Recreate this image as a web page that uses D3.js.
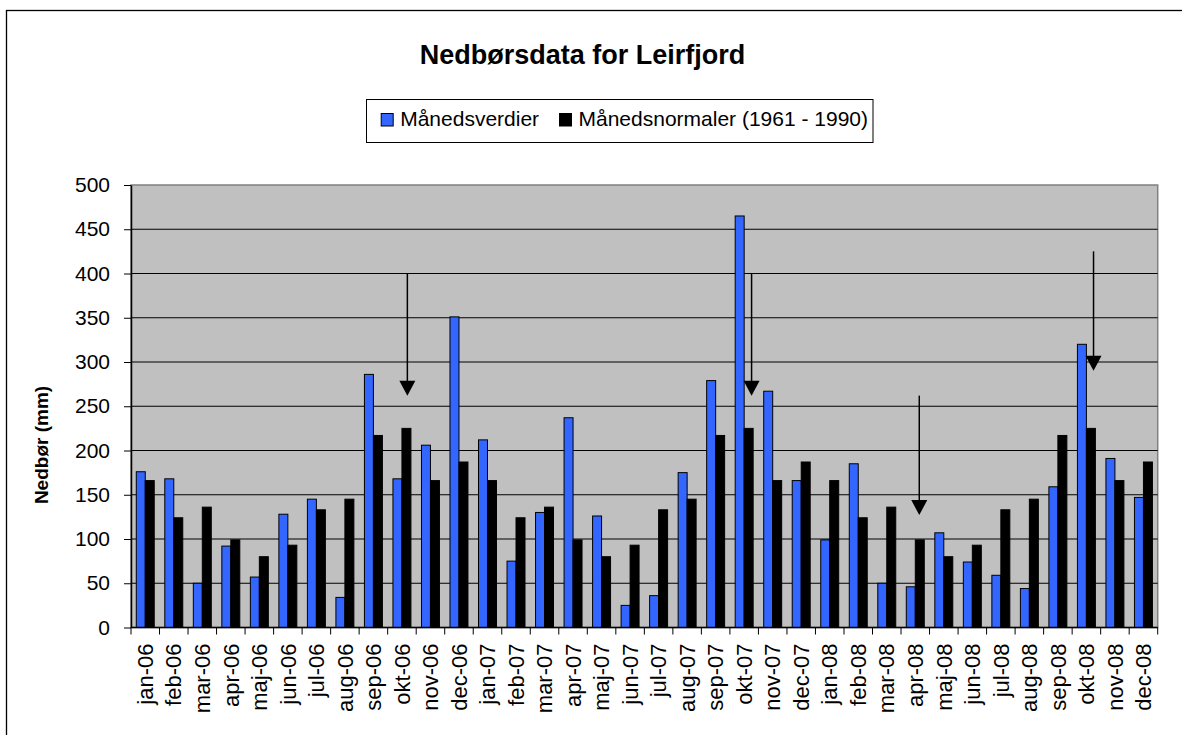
<!DOCTYPE html>
<html>
<head>
<meta charset="utf-8">
<script src="https://cdn.jsdelivr.net/npm/d3@7"></script>
<style>
  body { margin: 0; background: #fff; }
  text { font-family: "Liberation Sans", Arial, sans-serif; }
</style>
</head>
<body>
<div id="chart"></div>
<script>
var months = ['jan-06','feb-06','mar-06','apr-06','maj-06','jun-06','jul-06','aug-06','sep-06','okt-06','nov-06','dec-06',
  'jan-07','feb-07','mar-07','apr-07','maj-07','jun-07','jul-07','aug-07','sep-07','okt-07','nov-07','dec-07',
  'jan-08','feb-08','mar-08','apr-08','maj-08','jun-08','jul-08','aug-08','sep-08','okt-08','nov-08','dec-08'];

// månedsverdier (mm)
var verdier = [176,168,50,92,57,128,145,34,286,168,206,351,
  212,75,130,237,126,25,36,175,279,465,267,166,
  99,185,50,46,107,74,59,44,159,320,191,147];

// månedsnormaler 1961-1990 (mm)
var normaler = [166,124,136,99,80,93,133,145,217,225,166,187,
  166,124,136,99,80,93,133,145,217,225,166,187,
  166,124,136,99,80,93,133,145,217,225,166,187];

var yTicks = [0,50,100,150,200,250,300,350,400,450,500];

// piler: måned, plassering i båndet, fra/til verdi
var arrows = [
  {month: 'okt-06', pos: 0.69, from: 400, to: 262},
  {month: 'okt-07', pos: 0.76, from: 400, to: 262},
  {month: 'apr-08', pos: 0.64, from: 262, to: 127},
  {month: 'okt-08', pos: 0.75, from: 425, to: 290}
];

var seriesNames = ['Månedsverdier', 'Månedsnormaler (1961 - 1990)'];
var seriesColors = ['#3366ff', '#000000'];

var plotLeft = 131, plotRight = 1157.7, plotTop = 185, plotBottom = 627.5;

var svg = d3.select('#chart')
  .append('svg')
  .attr('width', 1182)
  .attr('height', 735);

svg.append('rect')
  .attr('x', 6.5).attr('y', 10.5)
  .attr('width', 1200).attr('height', 800)
  .attr('fill', 'none').attr('stroke', '#000').attr('stroke-width', 1.3);

var x0 = d3.scaleBand().domain(months).range([plotLeft, plotRight]);
var bw = x0.bandwidth();
var x1 = d3.scaleBand().domain([0, 1]).range([bw * 0.185, bw * 0.815]);
var y = d3.scaleLinear().domain([0, 500]).range([plotBottom, plotTop]);

// plot area
svg.append('rect')
  .attr('x', plotLeft).attr('y', plotTop)
  .attr('width', plotRight - plotLeft).attr('height', plotBottom - plotTop)
  .attr('fill', '#c0c0c0')
  .attr('stroke', '#808080').attr('stroke-width', 1.5);

svg.selectAll('line.grid')
  .data(yTicks.filter(function(d){ return d > 0 && d < 500; }))
  .enter()
    .append('line')
    .classed('grid', true)
    .attr('x1', plotLeft).attr('x2', plotRight)
    .attr('y1', function(d){ return y(d); })
    .attr('y2', function(d){ return y(d); })
    .attr('stroke', '#000').attr('stroke-width', 1);

// bars
var groups = svg.selectAll('g.datapoint')
  .data(months)
  .enter()
    .append('g')
    .classed('datapoint', true)
    .attr('transform', function(d){ return 'translate(' + x0(d) + ',0)'; });

groups.selectAll('rect')
  .data(function(d, i){ return [verdier[i], normaler[i]]; })
  .enter()
    .append('rect')
    .attr('x', function(d, j){ return x1(j); })
    .attr('y', function(d){ return y(d); })
    .attr('width', x1.bandwidth())
    .attr('height', function(d){ return y(0) - y(d); })
    .attr('fill', function(d, j){ return seriesColors[j]; })
    .attr('stroke', '#000').attr('stroke-width', 1);

// y axis
var yAxis = svg.append('g')
  .attr('transform', 'translate(' + plotLeft + ',0)')
  .call(d3.axisLeft(y).tickValues(yTicks).tickSize(7).tickPadding(14).tickSizeOuter(0));
yAxis.select('.domain').attr('stroke', '#000').attr('stroke-width', 1.5);
yAxis.selectAll('.tick line').attr('stroke', '#000');
yAxis.selectAll('.tick text')
  .attr('font-family', '"Liberation Sans", Arial, sans-serif')
  .attr('font-size', 21).attr('fill', '#000');

// x axis
svg.append('line')
  .attr('x1', plotLeft).attr('x2', plotRight)
  .attr('y1', plotBottom).attr('y2', plotBottom)
  .attr('stroke', '#000').attr('stroke-width', 1.5);

svg.selectAll('line.xtick')
  .data(months.concat(['end']))
  .enter()
    .append('line')
    .classed('xtick', true)
    .attr('x1', function(d){ return d === 'end' ? plotRight : x0(d); })
    .attr('x2', function(d){ return d === 'end' ? plotRight : x0(d); })
    .attr('y1', plotBottom).attr('y2', plotBottom + 7)
    .attr('stroke', '#000');

svg.selectAll('text.xlabel')
  .data(months)
  .enter()
    .append('text')
    .classed('xlabel', true)
    .attr('transform', function(d){ return 'translate(' + (x0(d) + bw / 2) + ',' + (plotBottom + 16) + ') rotate(-90)'; })
    .attr('dy', '0.35em')
    .attr('text-anchor', 'end')
    .attr('font-size', 22)
    .text(function(d){ return d; });

// arrows
var arr = svg.selectAll('g.arrow')
  .data(arrows)
  .enter()
    .append('g')
    .classed('arrow', true);

arr.append('line')
  .attr('x1', function(d){ return x0(d.month) + bw * d.pos; })
  .attr('x2', function(d){ return x0(d.month) + bw * d.pos; })
  .attr('y1', function(d){ return y(d.from); })
  .attr('y2', function(d){ return y(d.to) - 10; })
  .attr('stroke', '#000').attr('stroke-width', 1.5);

arr.append('path')
  .attr('d', function(d){
    var ax = x0(d.month) + bw * d.pos, ay = y(d.to);
    return 'M' + ax + ',' + ay + 'L' + (ax - 8) + ',' + (ay - 15) + 'L' + (ax + 8) + ',' + (ay - 15) + 'Z';
  })
  .attr('fill', '#000');

// title
svg.append('text')
  .attr('x', 582.5).attr('y', 64)
  .attr('text-anchor', 'middle')
  .attr('font-size', 27).attr('font-weight', 'bold')
  .text('Nedbørsdata for Leirfjord');

// y title
svg.append('text')
  .attr('transform', 'translate(41,445) rotate(-90)')
  .attr('text-anchor', 'middle')
  .attr('dy', '0.35em')
  .attr('font-size', 19).attr('font-weight', 'bold')
  .text('Nedbør (mm)');

// legend
var legend = svg.append('g');
legend.append('rect')
  .attr('x', 366.5).attr('y', 99.5)
  .attr('width', 506.5).attr('height', 43)
  .attr('fill', '#fff').attr('stroke', '#000').attr('stroke-width', 1);

var legendX = [380.7, 559];
var items = legend.selectAll('g.item')
  .data(seriesNames)
  .enter()
    .append('g')
    .classed('item', true)
    .attr('transform', function(d, i){ return 'translate(' + legendX[i] + ',0)'; });
items.append('rect')
  .attr('x', 0.5).attr('y', 113.5)
  .attr('width', 12).attr('height', 12.5)
  .attr('fill', function(d, i){ return seriesColors[i]; })
  .attr('stroke', '#000').attr('stroke-width', 1);
items.append('text')
  .attr('x', 19.5).attr('y', 126)
  .attr('font-size', 21)
  .text(function(d){ return d; });
</script>
</body>
</html>
